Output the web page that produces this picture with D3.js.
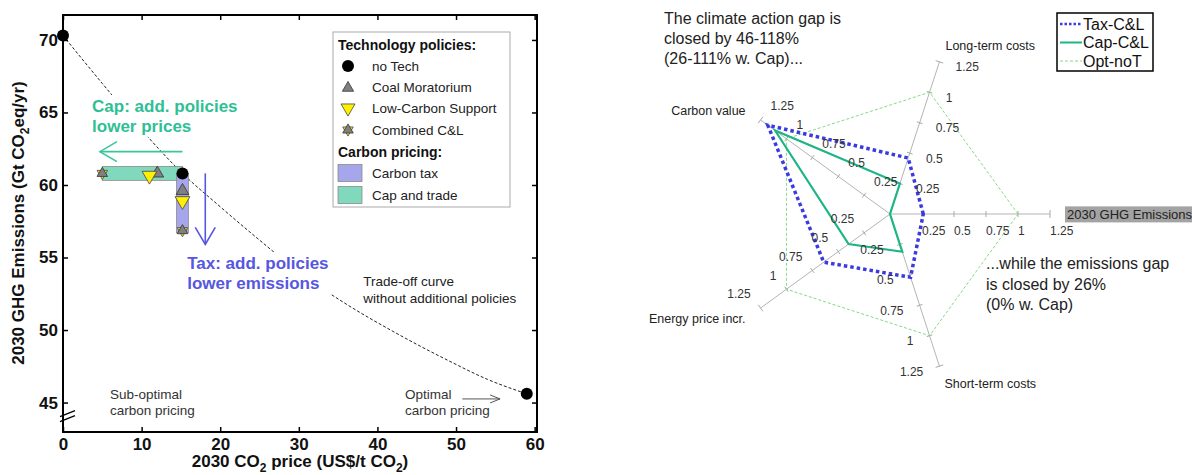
<!DOCTYPE html>
<html>
<head>
<meta charset="utf-8">
<script src="https://cdn.jsdelivr.net/npm/d3@7"></script>
<style>
body { margin: 0; background: #fff; }
svg { display: block; font-family: "Liberation Sans", Arial, sans-serif; }
</style>
</head>
<body>
<div id="chart"></div>
<script>
// left panel: price vs emissions
var priceTicks = [0, 10, 20, 30, 40, 50, 60]
var emisTicks = [45, 50, 55, 60, 65, 70]
var curvePrice = [0, 5, 10, 15.2, 20, 25, 30, 36, 42, 49, 54, 59]
var curveEmis = [70.3, 67.0, 63.8, 60.8, 58.5, 56.2, 54.0, 51.8, 49.9, 47.9, 46.6, 45.6]
var noTechPrice = [0, 15.2, 59]
var noTechEmis = [70.3, 60.8, 45.6]
var coalPrice = [15.2, 12]
var coalEmis = [59.6, 60.8]
var lowCarbPrice = [15.2, 11]
var lowCarbEmis = [58.9, 60.65]
var combPrice = [15.2, 5]
var combEmis = [56.85, 60.8]
var taxBarEmis = [60.8, 56.7]
var capBarPrice = [5, 15.2]
var techNames = ["no Tech", "Coal Moratorium", "Low-Carbon Support", "Combined C&L"]
var pricingNames = ["Carbon tax", "Cap and trade"]

// right panel: spider chart
var radarAxes = ["2030 GHG Emissions", "Long-term costs", "Carbon value", "Energy price incr.", "Short-term costs"]
var radarTicks = [0.25, 0.5, 0.75, 1, 1.25]
var taxCL = [0.26, 0.46, 1.18, 0.64, 0.52]
var capCL = [0, 0.25, 1.11, 0.40, 0.31]
var optNoT = [1, 1, 1, 1, 1]
var seriesNames = ["Tax-C&L", "Cap-C&L", "Opt-noT"]

var svg = d3.select("#chart").append("svg").attr("width", 1192).attr("height", 475)

var taxCol = "#5656e2", capCol = "#2fbf95"

// ---------- left panel
var x = d3.scaleLinear().domain([0, 60.3]).range([63, 537])
var y = d3.scaleLinear().domain([42.97, 71.72]).range([432, 15])
var left = svg.append("g")

left.append("path").datum(d3.zip(curvePrice, curveEmis))
	.attr("d", d3.line().x(function(d){ return x(d[0]) }).y(function(d){ return y(d[1]) }).curve(d3.curveMonotoneX))
	.attr("fill", "none").attr("stroke", "#222").attr("stroke-width", 1).attr("stroke-dasharray", "3,2")

function textBlock(g, px, py, lines, size, weight, color, gap, bg) {
	var t = g.append("text").attr("x", px).attr("y", py).attr("font-size", size)
		.attr("font-weight", weight).attr("fill", color)
	lines.forEach(function(l, i){ t.append("tspan").attr("x", px).attr("dy", i ? gap : 0).text(l) })
	if (bg) {
		var b = t.node().getBBox()
		g.insert("rect", function(){ return t.node() }).attr("x", b.x - 3).attr("y", b.y - 2)
			.attr("width", b.width + 6).attr("height", b.height + 3).attr("fill", "#fff")
	}
	return t
}

textBlock(left.append("g"), x(3.7), y(65.04), ["Cap: add. policies", "lower prices"], 17, "bold", capCol, 20, true)
textBlock(left.append("g"), x(15.8), y(54.2), ["Tax: add. policies", "lower emissions"], 17, "bold", taxCol, 20, true)
textBlock(left.append("g"), x(38.2), y(53.04), ["Trade-off curve", "without additional policies"], 13.5, "normal", "#222", 17, false)
textBlock(left.append("g"), x(5.98), y(45.25), ["Sub-optimal", "carbon pricing"], 13.5, "normal", "#333", 16, false)
textBlock(left.append("g"), x(43.5), y(45.25), ["Optimal", "carbon pricing"], 13.5, "normal", "#333", 16, false)

function arrow(g, x1, y1, x2, y2, color, head, spread, w) {
	var a = Math.atan2(y2 - y1, x2 - x1)
	g.append("line").attr("x1", x1).attr("y1", y1).attr("x2", x2).attr("y2", y2)
		.attr("stroke", color).attr("stroke-width", w)
	var p = [[-head, -spread], [0, 0], [-head, spread]].map(function(q){
		return [x2 + q[0] * Math.cos(a) - q[1] * Math.sin(a), y2 + q[0] * Math.sin(a) + q[1] * Math.cos(a)]
	})
	g.append("path").attr("d", d3.line()(p)).attr("fill", "none").attr("stroke", color).attr("stroke-width", w)
}
arrow(left, x(15.2), y(62.3), x(4.7), y(62.3), "#3cc59c", 17, 10, 1.6)
arrow(left, x(18.1), y(60.8), x(18.1), y(55.9), taxCol, 17, 10, 1.6)
arrow(left, x(50.8), y(45.25), x(55.6), y(45.25), "#555", 10, 4, 1)

// pricing bars
left.append("rect").attr("x", x(capBarPrice[0])).attr("width", x(capBarPrice[1]) - x(capBarPrice[0]))
	.attr("y", y(60.8 + 0.48)).attr("height", y(60.8 - 0.48) - y(60.8 + 0.48))
	.attr("fill", "#80d9bd").attr("stroke", "#8a8a8a").attr("stroke-width", 0.8)
left.append("rect").attr("x", x(15.2 - 0.75)).attr("width", x(15.95) - x(14.45))
	.attr("y", y(taxBarEmis[0])).attr("height", y(taxBarEmis[1]) - y(taxBarEmis[0]))
	.attr("fill", "#a6a6ec").attr("stroke", "#8a8a8a").attr("stroke-width", 0.8)

var triUp = d3.symbol().type(d3.symbolTriangle)
function drawCoal(g, px, py, s) {
	g.append("path").attr("d", triUp.size(s)()).attr("transform", "translate(" + px + "," + py + ")")
		.attr("fill", "#808080").attr("stroke", "#333").attr("stroke-width", 0.8)
}
function drawLow(g, px, py, s) {
	g.append("path").attr("d", triUp.size(s)()).attr("transform", "translate(" + px + "," + py + ") rotate(180)")
		.attr("fill", "#fff000").attr("stroke", "#444").attr("stroke-width", 0.8)
}
function drawComb(g, px, py) { drawLow(g, px, py, 48); drawCoal(g, px, py, 48) }
function drawDot(g, px, py) { g.append("circle").attr("cx", px).attr("cy", py).attr("r", 6).attr("fill", "#000") }

coalPrice.forEach(function(p, i){ drawCoal(left, x(p), y(coalEmis[i]), 70) })
lowCarbPrice.forEach(function(p, i){ drawLow(left, x(p), y(lowCarbEmis[i]), 95) })
combPrice.forEach(function(p, i){ drawComb(left, x(p), y(combEmis[i])) })
noTechPrice.forEach(function(p, i){ drawDot(left, x(p), y(noTechEmis[i])) })

// axes and frame
function styleAxis(g, size) {
	g.select(".domain").remove()
	g.selectAll("line").attr("stroke", "#000").attr("stroke-width", 1.5)
	g.selectAll("text").attr("font-size", size).attr("font-weight", "bold").attr("fill", "#111")
		.attr("font-family", '"Liberation Sans", Arial, sans-serif')
}
left.append("g").attr("transform", "translate(0,432)")
	.call(d3.axisBottom(x).tickValues(priceTicks).tickSizeInner(-5).tickSizeOuter(0).tickPadding(6))
	.call(styleAxis, 17)
left.append("g").attr("transform", "translate(0,15)")
	.call(d3.axisTop(x).tickValues(priceTicks).tickSizeInner(-5).tickSizeOuter(0).tickFormat(""))
	.call(styleAxis, 17)
left.append("g").attr("transform", "translate(63,0)")
	.call(d3.axisLeft(y).tickValues(emisTicks).tickSizeInner(-5).tickSizeOuter(0).tickPadding(5))
	.call(styleAxis, 17)
left.append("g").attr("transform", "translate(537,0)")
	.call(d3.axisRight(y).tickValues(emisTicks).tickSizeInner(-5).tickSizeOuter(0).tickFormat(""))
	.call(styleAxis, 17)
left.append("rect").attr("x", 63).attr("y", 15).attr("width", 474).attr("height", 417)
	.attr("fill", "none").attr("stroke", "#000").attr("stroke-width", 2)

// axis break
var yb = y(44.1)
;[0, 5].forEach(function(o){
	left.append("line").attr("x1", 60).attr("y1", yb + o + 1).attr("x2", 75).attr("y2", yb + o - 5)
		.attr("stroke", "#000").attr("stroke-width", 1.5)
})

var xl = left.append("text").attr("x", 300).attr("y", 467).attr("text-anchor", "middle")
	.attr("font-size", 17).attr("font-weight", "bold").attr("fill", "#111")
xl.append("tspan").text("2030 CO")
xl.append("tspan").attr("dy", 5).attr("font-size", 12).text("2")
xl.append("tspan").attr("dy", -5).text(" price (US$/t CO")
xl.append("tspan").attr("dy", 5).attr("font-size", 12).text("2")
xl.append("tspan").attr("dy", -5).text(")")

var yl = left.append("text").attr("transform", "translate(24,223) rotate(-90)").attr("text-anchor", "middle")
	.attr("font-size", 17).attr("font-weight", "bold").attr("fill", "#111")
yl.append("tspan").text("2030 GHG Emissions (Gt CO")
yl.append("tspan").attr("dy", 5).attr("font-size", 12).text("2")
yl.append("tspan").attr("dy", -5).text("eq/yr)")

// left legend
var lg = left.append("g")
lg.append("rect").attr("x", 333).attr("y", 32).attr("width", 177).attr("height", 175)
	.attr("fill", "#fff").attr("stroke", "#aaa").attr("stroke-width", 1)
var rows = [45, 66, 87, 108, 130, 152, 173, 195]
lg.append("text").attr("x", 338).attr("y", rows[0]).attr("dy", "0.35em").attr("font-size", 14)
	.attr("font-weight", "bold").attr("fill", "#111").text("Technology policies:")
lg.append("text").attr("x", 338).attr("y", rows[5]).attr("dy", "0.35em").attr("font-size", 14)
	.attr("font-weight", "bold").attr("fill", "#111").text("Carbon pricing:")
drawDot(lg, 348, rows[1])
drawCoal(lg, 348, rows[2] + 1, 55)
drawLow(lg, 348, rows[3], 85)
drawComb(lg, 348, rows[4])
techNames.forEach(function(n, i){
	lg.append("text").attr("x", 372).attr("y", rows[i + 1]).attr("dy", "0.35em").attr("font-size", 13.5)
		.attr("fill", "#222").text(n)
})
;["#a6a6ec", "#80d9bd"].forEach(function(c, i){
	lg.append("rect").attr("x", 338).attr("y", rows[6 + i] - 8.5).attr("width", 24).attr("height", 17)
		.attr("fill", c).attr("stroke", "#8a8a8a").attr("stroke-width", 0.8)
	lg.append("text").attr("x", 372).attr("y", rows[6 + i]).attr("dy", "0.35em").attr("font-size", 13.5)
		.attr("fill", "#222").text(pricingNames[i])
})

// ---------- right panel
var cx = 890, cy = 214
var r = d3.scaleLinear().domain([0, 1.25]).range([0, 160])
var ang = d3.scaleLinear().domain([0, radarAxes.length]).range([0, 2 * Math.PI])
function pt(i, v) { var a = ang(i); return [cx + r(v) * Math.cos(a), cy - r(v) * Math.sin(a)] }
var right = svg.append("g")

radarAxes.forEach(function(name, i){
	var a = ang(i), e = pt(i, 1.25), px = Math.sin(a), py = Math.cos(a)
	right.append("line").attr("x1", cx).attr("y1", cy).attr("x2", e[0]).attr("y2", e[1])
		.attr("stroke", "#b4b4b4").attr("stroke-width", 1)
	radarTicks.forEach(function(t){
		var p = pt(i, t), h = t == 1.25 ? 4 : 3
		right.append("line").attr("x1", p[0] - px * h).attr("y1", p[1] - py * h)
			.attr("x2", p[0] + px * h).attr("y2", p[1] + py * h).attr("stroke", "#aaa").attr("stroke-width", 1)
	})
})

var radarLine = d3.line().curve(d3.curveLinearClosed)
function series(vals) { return vals.map(function(v, i){ return pt(i, v) }) }
right.append("path").attr("d", radarLine(series(optNoT))).attr("fill", "none")
	.attr("stroke", "#86d986").attr("stroke-width", 1).attr("stroke-dasharray", "3,2")
right.append("path").attr("d", radarLine(series(capCL))).attr("fill", "none")
	.attr("stroke", "#1db486").attr("stroke-width", 2.2)
right.append("path").attr("d", radarLine(series(taxCL))).attr("fill", "none")
	.attr("stroke", "#3a3ae0").attr("stroke-width", 3.5).attr("stroke-dasharray", "3.5,3")

// tick labels
radarAxes.forEach(function(name, i){
	var a = ang(i), px = Math.sin(a), py = Math.cos(a)
	radarTicks.forEach(function(t){
		var p = pt(i, t)
		right.append("text").attr("x", p[0] + px * 17).attr("y", p[1] + py * 17).attr("dy", "0.35em")
			.attr("text-anchor", px < -0.1 ? "end" : "start").attr("font-size", 12).attr("fill", "#333")
			.text(t)
	})
})

// axis names, offset from the 1.25 end of each axis
var nameOffset = [[17, 0, "start"], [6, -16, "start"], [-15, -9, "end"], [-15, 11, "end"], [5, 17, "start"]]
radarAxes.forEach(function(name, i){
	var e = pt(i, 1.25), o = nameOffset[i]
	var t = right.append("text").attr("x", e[0] + o[0]).attr("y", e[1] + o[1]).attr("dy", "0.35em")
		.attr("text-anchor", o[2]).attr("font-size", 12.5).attr("fill", "#222").text(name)
	if (i == 0) {
		var b = t.node().getBBox()
		right.insert("rect", function(){ return t.node() }).attr("x", b.x - 2).attr("y", b.y - 1)
			.attr("width", 200).attr("height", b.height + 2).attr("fill", "#a3a3a3")
		t.attr("font-size", 13)
	}
})

textBlock(right.append("g"), 664, 24, ["The climate action gap is", "closed by 46-118%", "(26-111% w. Cap)..."], 16, "normal", "#222", 20, false)
textBlock(right.append("g"), 986, 269, ["...while the emissions gap", "is closed by 26%", "(0% w. Cap)"], 16, "normal", "#222", 20.5, false)

// right legend
var rl = right.append("g")
rl.append("rect").attr("x", 1057).attr("y", 13).attr("width", 96).attr("height", 58)
	.attr("fill", "#fff").attr("stroke", "#000").attr("stroke-width", 1.5)
var legStyles = [["#3a3ae0", 2.5, "2.5,2"], ["#1db486", 2, null], ["#86d986", 1, "3,2"]]
seriesNames.forEach(function(n, i){
	var yy = 24 + i * 18.5, s = legStyles[i]
	rl.append("line").attr("x1", 1060).attr("x2", 1082).attr("y1", yy).attr("y2", yy)
		.attr("stroke", s[0]).attr("stroke-width", s[1]).attr("stroke-dasharray", s[2])
	rl.append("text").attr("x", 1083).attr("y", yy).attr("dy", "0.35em").attr("font-size", 16)
		.attr("fill", "#111").text(n)
})
</script>
</body>
</html>
